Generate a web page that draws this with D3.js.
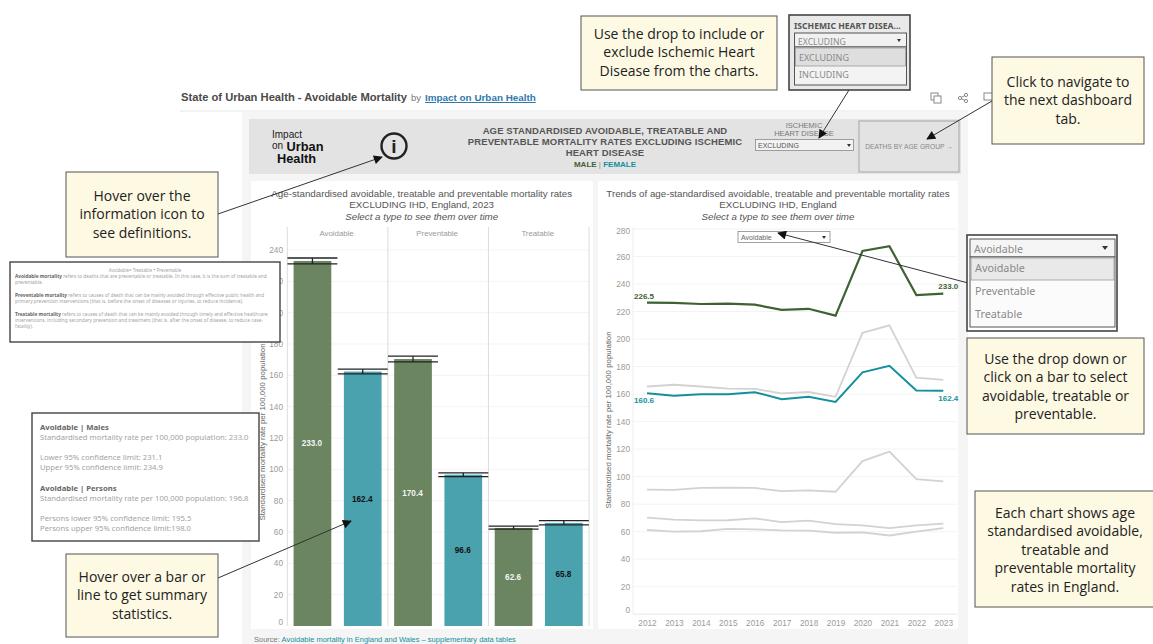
<!DOCTYPE html>
<html>
<head>
<meta charset="utf-8">
<script src="https://cdn.jsdelivr.net/npm/d3@7"></script>
<style>
   html, body { margin: 0; padding: 0; background: #fff; overflow: hidden; }
   svg { display: block; }
   text { font-family: "Liberation Sans", Arial, sans-serif; }
   .note { font-family: "Open Sans", sans-serif; font-size: 14px; fill: #222; text-anchor: middle; }
   .tip { font-family: "Noto Sans", sans-serif; font-size: 7.7px; fill: #a3a3a3; }
   .drop { font-family: "Noto Sans", sans-serif; fill: #8a8a8a; }
</style>
</head>
<body>
<svg id="chart" width="1153" height="644"></svg>
<script>
// Data
var types = ["Avoidable", "Preventable", "Treatable"];
var sexes = ["Male", "Female"];
var rates2023 = [233.0, 162.4, 170.4, 96.6, 62.6, 65.8];
var lowerLimits = [231.1, 160.9, 168.6, 95.3, 61.8, 64.6];
var upperLimits = [234.9, 163.9, 172.2, 97.8, 63.8, 67.2];
var barTicks = [0, 20, 40, 60, 80, 100, 120, 140, 160, 180, 200, 220, 240];
var lineTicks = [0, 20, 40, 60, 80, 100, 120, 140, 160, 180, 200, 220, 240, 260, 280];

var years = [2012, 2013, 2014, 2015, 2016, 2017, 2018, 2019, 2020, 2021, 2022, 2023];
var avoidableMale = [226.5, 226.3, 225.5, 225.7, 225.0, 221.2, 222.0, 217.0, 264.0, 267.5, 232.0, 233.0];
var avoidableFemale = [160.6, 158.8, 159.8, 159.9, 161.4, 156.3, 158.0, 154.3, 175.8, 180.5, 162.6, 162.4];
var preventableMale = [165.5, 166.8, 165.5, 164.0, 163.8, 160.5, 161.5, 158.0, 204.5, 210.0, 172.0, 170.4];
var preventableFemale = [90.5, 90.3, 91.8, 91.9, 91.8, 89.4, 90.0, 89.0, 111.3, 118.2, 98.2, 96.6];
var treatableFemale = [70.2, 68.7, 68.2, 68.3, 69.7, 67.0, 68.0, 65.5, 64.6, 62.5, 64.5, 65.8];
var treatableMale = [61.2, 60.0, 60.3, 62.0, 61.7, 61.0, 60.8, 59.2, 59.5, 57.2, 60.0, 62.6];

var headerLines = ["AGE STANDARDISED AVOIDABLE, TREATABLE AND", "PREVENTABLE MORTALITY RATES EXCLUDING ISCHEMIC", "HEART DISEASE"];
var defLines = [
   [["Avoidable mortality", 1], [" refers to deaths that are preventable or treatable. In this case, it is the sum of treatable and", 0]],
   [["preventable.", 0]],
   [["Preventable mortality", 1], [" refers to causes of death that can be mainly avoided through effective public health and", 0]],
   [["primary prevention interventions (that is, before the onset of diseases or injuries, to reduce incidence).", 0]],
   [["Treatable mortality", 1], [" refers to causes of death that can be mainly avoided through timely and effective healthcare", 0]],
   [["interventions, including secondary prevention and treatment (that is, after the onset of disease, to reduce case-", 0]],
   [["fatality).", 0]]
];
var tipLines = [
   ["Avoidable | Males", 1],
   ["Standardised mortality rate per 100,000 population: 233.0", 0],
   ["Lower 95% confidence limit: 231.1", 0],
   ["Upper 95% confidence limit: 234.9", 0],
   ["Avoidable | Persons", 1],
   ["Standardised mortality rate per 100,000 population:  196.8", 0],
   ["Persons lower 95% confidence limit: 195.5", 0],
   ["Persons upper 95% confidence limit:198.0", 0]
];

var green = "#6b8560", teal = "#4aa2ae", darkGreen = "#3f6233", darkTeal = "#13909e", pale = "#d2d2d2";
var svg = d3.select("#chart");

function rect(x, y, w, h, fill, stroke, sw) {
   return svg.append("rect").attr("x", x).attr("y", y).attr("width", w).attr("height", h)
      .attr("fill", fill).attr("stroke", stroke || "none").attr("stroke-width", sw || 0);
}

function label(x, y, str, size, color, anchor, weight) {
   return svg.append("text").attr("x", x).attr("y", y).text(str)
      .attr("font-size", size).attr("fill", color)
      .attr("text-anchor", anchor || "start").attr("font-weight", weight || "normal");
}

function styleAxis(g, size) {
   g.select(".domain").remove();
   g.selectAll("text").attr("fill", "#a09a96").attr("font-size", size)
      .attr("font-family", "Liberation Sans");
}

// Page furniture
function drawFrame() {
   label(181, 101, "State of Urban Health - Avoidable Mortality", 11.2, "#4a4a4a", "start", "bold");
   label(411, 101, "by", 9.5, "#777");
   label(425, 101, "Impact on Urban Health", 9.9, "#2f78ac", "start", "bold").attr("text-decoration", "underline");
   svg.append("line").attr("x1", 180).attr("x2", 968).attr("y1", 111).attr("y2", 111).attr("stroke", "#e6e6e6");

   // small toolbar icons
   rect(931, 93, 7, 7, "none", "#888", 1);
   rect(934, 96, 7, 7, "#fff", "#888", 1);
   svg.append("path").attr("d", "M960 98l6-3M960 98l6 3").attr("stroke", "#888").attr("fill", "none");
   [[960, 98], [966, 95], [966, 101]].forEach(function(p) {
      svg.append("circle").attr("cx", p[0]).attr("cy", p[1]).attr("r", 1.6).attr("fill", "#fff").attr("stroke", "#888");
   });
   rect(984, 93, 9, 7, "none", "#888", 1);

   rect(242, 112, 726, 532, "#f5f5f5");
   rect(249, 119, 712, 55, "#e3e3e3");
   rect(251, 181, 342, 448, "#fff");
   rect(598, 181, 360, 448, "#fff");

   label(272, 138, "Impact", 10, "#222");
   label(272, 148.5, "on", 10, "#222");
   label(286.5, 151, "Urban", 12.8, "#111", "start", "bold");
   label(277, 162.5, "Health", 12.8, "#111", "start", "bold");

   svg.append("circle").attr("cx", 394).attr("cy", 146).attr("r", 12.5).attr("fill", "none").attr("stroke", "#222").attr("stroke-width", 2.4);
   label(394, 153, "i", 19, "#222", "middle", "bold");

   headerLines.forEach(function(d, i) {
      label(605, 133.5 + i * 11.4, d, 9.5, "#555", "middle", "bold").attr("letter-spacing", 0.12);
   });
   var key = label(605, 166.5, "", 8, "#888", "middle", "bold");
   key.append("tspan").attr("fill", darkGreen).text("MALE");
   key.append("tspan").attr("fill", "#888").attr("font-weight", "normal").text(" | ");
   key.append("tspan").attr("fill", darkTeal).text("FEMALE");

   label(804, 128, "ISCHEMIC", 7.5, "#777", "middle");
   label(804, 136, "HEART DISEASE", 7.5, "#777", "middle");
   rect(755.5, 139.5, 98, 11, "#f2f2f2", "#8a8a8a", 0.8);
   label(758, 147.5, "EXCLUDING", 7, "#555");
   svg.append("path").attr("d", "M847 144h4l-2 3z").attr("fill", "#333");

   rect(859, 121, 100, 51, "#e3e3e3", "#a5a5a5", 1);
   label(909, 149, "DEATHS BY AGE GROUP →", 6.7, "#888", "middle");

   label(421.7, 197, "Age-standardised avoidable, treatable and preventable mortality rates", 9.75, "#555", "middle");
   label(421.7, 208, "EXCLUDING IHD, England, 2023", 9.75, "#555", "middle");
   label(421.7, 219.5, "Select a type to see them over time", 9.75, "#555", "middle").attr("font-style", "italic");
   label(778, 197, "Trends of age-standardised avoidable, treatable and preventable mortality rates", 9.75, "#555", "middle");
   label(778, 208, "EXCLUDING IHD, England", 9.75, "#555", "middle");
   label(778, 219.5, "Select a type to see them over time", 9.75, "#555", "middle").attr("font-style", "italic");

   var src = label(254, 642, "Source: ", 7.5, "#777");
   src.append("tspan").attr("fill", darkTeal).text("Avoidable mortality in England and Wales – supplementary data tables");
}

function drawBars() {
   var y = d3.scaleLinear().domain([0, 240]).range([626, 250]);
   var facet = d3.scaleBand().domain(types).range([287.3, 589]);
   var inner = d3.scaleBand().domain(sexes).range([0, facet.bandwidth()]).paddingInner(0.25).paddingOuter(0.125);

   var axis = svg.append("g").attr("transform", "translate(287,0)")
      .call(d3.axisLeft(y).tickValues(barTicks).tickSize(0).tickPadding(4));
   styleAxis(axis, 8.3);
   axis.selectAll(".tick").filter(function(d) { return d === 0; }).select("text").attr("dy", "-0.2em");

   svg.append("g").selectAll("line").data(barTicks.filter(function(d) { return d > 0; })).enter().append("line")
      .attr("x1", 287).attr("x2", 589).attr("y1", y).attr("y2", y).attr("stroke", "#f3f3f3");

   svg.append("g").selectAll("line").data(types.concat(["end"])).enter().append("line")
      .attr("x1", function(d) { return d === "end" ? 589 : facet(d); })
      .attr("x2", function(d) { return d === "end" ? 589 : facet(d); })
      .attr("y1", 227).attr("y2", 626).attr("stroke", "#dcdcdc").attr("stroke-width", 1);

   types.forEach(function(t) {
      label(facet(t) + facet.bandwidth() / 2 - 1, 236, t, 7.8, "#999", "middle");
   });

   var rows = [];
   types.forEach(function(t, i) {
      sexes.forEach(function(s, j) {
         var k = i * 2 + j;
         rows.push({type: t, sex: s, value: rates2023[k], lo: lowerLimits[k], hi: upperLimits[k]});
      });
   });
   function cx(d) { return facet(d.type) + inner(d.sex) + inner.bandwidth() / 2; }

   svg.append("g").selectAll("rect").data(rows).enter().append("rect")
      .attr("x", function(d) { return facet(d.type) + inner(d.sex); })
      .attr("y", function(d) { return y(d.value); })
      .attr("width", inner.bandwidth())
      .attr("height", function(d) { return y(0) - y(d.value); })
      .attr("fill", function(d) { return d.sex === "Male" ? green : teal; });

   var err = svg.append("g").attr("stroke", "#222").attr("stroke-width", 1.3);
   rows.forEach(function(d) {
      err.append("line").attr("x1", cx(d) - 25).attr("x2", cx(d) + 25).attr("y1", y(d.hi)).attr("y2", y(d.hi));
      err.append("line").attr("x1", cx(d) - 25).attr("x2", cx(d) + 25).attr("y1", y(d.lo)).attr("y2", y(d.lo));
      err.append("line").attr("x1", cx(d)).attr("x2", cx(d)).attr("y1", y(d.hi)).attr("y2", y(d.lo));
   });

   svg.append("g").selectAll("text").data(rows).enter().append("text")
      .attr("x", function(d) { return cx(d) - 0.5; })
      .attr("y", function(d) { return y(d.value / 2) + 3; })
      .attr("text-anchor", "middle").attr("font-size", 8.2).attr("font-weight", "bold")
      .attr("fill", function(d) { return d.sex === "Male" ? "#f4f4f4" : "#111"; })
      .text(function(d) { return d.value.toFixed(1); });

   label(0, 0, "Standardised mortality rate per 100,000 population", 7.9, "#666", "middle")
      .attr("transform", "translate(265,432) rotate(-90)");
}

function drawLines() {
   var y = d3.scaleLinear().domain([0, 280]).range([614.2, 229]);
   var x = d3.scalePoint().domain(years).range([647, 943.3]);
   var path = d3.line().x(function(d, i) { return x(years[i]); }).y(function(d) { return y(d); });

   svg.append("g").selectAll("line").data(lineTicks).enter().append("line")
      .attr("x1", 633).attr("x2", 957).attr("y1", y).attr("y2", y)
      .attr("stroke", function(d) { return d === 0 ? "#e6e6e6" : "#f3f3f3"; });
   svg.append("line").attr("x1", 633).attr("x2", 633).attr("y1", 227).attr("y2", 614).attr("stroke", "#eee");

   var left = svg.append("g").attr("transform", "translate(631,0)")
      .call(d3.axisLeft(y).tickValues(lineTicks).tickSize(0).tickPadding(1));
   styleAxis(left, 8.3);
   left.selectAll(".tick").filter(function(d) { return d === 0; }).select("text").attr("dy", "-0.2em");
   left.selectAll(".tick").filter(function(d) { return d === 280; }).select("text").attr("dy", "0.6em");

   var bottom = svg.append("g").attr("transform", "translate(0,614)")
      .call(d3.axisBottom(x).tickFormat(d3.format("d")).tickSize(0).tickPadding(6));
   styleAxis(bottom, 8.3);

   var paleSeries = [preventableMale, preventableFemale, treatableFemale, treatableMale];
   svg.append("g").selectAll("path").data(paleSeries).enter().append("path")
      .attr("d", path).attr("fill", "none").attr("stroke", pale).attr("stroke-width", 1.8);
   svg.append("path").attr("d", path(avoidableMale)).attr("fill", "none").attr("stroke", darkGreen).attr("stroke-width", 2.2);
   svg.append("path").attr("d", path(avoidableFemale)).attr("fill", "none").attr("stroke", darkTeal).attr("stroke-width", 2);

   label(x(2012) - 13, y(avoidableMale[0]) - 4, avoidableMale[0].toFixed(1), 8, darkGreen, "start", "bold");
   label(x(2023) - 5, y(avoidableMale[11]) - 5, avoidableMale[11].toFixed(1), 8, darkGreen, "start", "bold");
   label(x(2012) - 13, y(avoidableFemale[0]) + 10, avoidableFemale[0].toFixed(1), 8, darkTeal, "start", "bold");
   label(x(2023) - 5, y(avoidableFemale[11]) + 10, avoidableFemale[11].toFixed(1), 8, darkTeal, "start", "bold");

   label(0, 0, "Standardised mortality rate per 100,000 population", 7.9, "#666", "middle")
      .attr("transform", "translate(611,420) rotate(-90)");

   rect(738, 231.5, 92, 11, "#fff", "#8a8a8a", 0.8);
   label(741, 239.5, "Avoidable", 7, "#666");
   svg.append("path").attr("d", "M822 236h4l-2 3z").attr("fill", "#333");
}

function callout(x, y, w, h, lines, firstBase, step) {
   rect(x, y, w, h, "#fdf9e3", "#555", 1);
   lines.forEach(function(d, i) {
      svg.append("text").attr("class", "note").attr("x", x + w / 2).attr("y", firstBase + i * step).text(d);
   });
}

function arrow(x1, y1, x2, y2) {
   svg.append("line").attr("x1", x1).attr("y1", y1).attr("x2", x2).attr("y2", y2)
      .attr("stroke", "#333").attr("stroke-width", 1).attr("marker-end", "url(#tip)");
}

function dropText(x, y, str, size, color, weight) {
   return svg.append("text").attr("class", "drop").attr("x", x).attr("y", y).text(str)
      .attr("font-size", size).attr("font-weight", weight || "normal").style("fill", color || "#8a8a8a");
}

function drawNotes() {
   svg.append("defs").append("marker").attr("id", "tip").attr("viewBox", "0 0 10 10")
      .attr("refX", 9).attr("refY", 5).attr("markerWidth", 11).attr("markerHeight", 9)
      .attr("markerUnits", "userSpaceOnUse").attr("orient", "auto")
      .append("path").attr("d", "M0 0L10 5L0 10z").attr("fill", "#111");

   // definitions box
   rect(10, 262, 270, 80, "#fff", "#444", 1.4);
   svg.append("text").attr("class", "tip").attr("x", 145).attr("y", 272).attr("text-anchor", "middle")
      .style("font-size", "4.4px").text("Avoidable= Treatable + Preventable");
   var defY = [277.5, 283.7, 296.7, 302.7, 316, 322, 328];
   defLines.forEach(function(parts, i) {
      var t = svg.append("text").attr("class", "tip").attr("x", 15).attr("y", defY[i]).style("font-size", "4.75px");
      parts.forEach(function(p) {
         t.append("tspan").text(p[0]).attr("font-weight", p[1] ? "bold" : "normal").style("fill", p[1] ? "#666" : "#a3a3a3");
      });
   });

   // tooltip box
   rect(32, 413, 227, 128, "#fff", "#444", 1.4);
   var tipY = [430, 440, 460, 470, 490.5, 500.5, 521, 531];
   tipLines.forEach(function(d, i) {
      svg.append("text").attr("class", "tip").attr("x", 40).attr("y", tipY[i]).text(d[0])
         .attr("font-weight", d[1] ? "bold" : "normal").style("fill", d[1] ? "#666" : "#a3a3a3");
   });

   // the two dropdown pictures
   rect(789, 15, 121, 75, "#e9e9e9", "#444", 1.6);
   dropText(794, 29, "ISCHEMIC HEART DISEA...", 8.6, "#555", "bold");
   rect(794.5, 33, 112, 14, "#f1f1f1", "#555", 1);
   dropText(798, 44.5, "EXCLUDING", 8.6);
   svg.append("path").attr("d", "M897 39h4l-2 3z").attr("fill", "#333");
   rect(794.5, 47, 112, 38, "#f3f3f3", "#555", 1);
   rect(795.5, 48, 110, 18, "#dedede", "#999", 0.8);
   dropText(799, 60.5, "EXCLUDING", 9);
   dropText(799, 78, "INCLUDING", 9);

   rect(967, 235, 150, 96, "#fff", "#444", 1.6);
   rect(970, 239, 145, 18, "#f5f5f5", "#555", 1);
   dropText(974, 252.5, "Avoidable", 10.6);
   svg.append("path").attr("d", "M1102 246h6l-3 4z").attr("fill", "#333");
   rect(970, 257, 145, 70, "#fbfbfb", "#555", 1);
   rect(971, 258, 143, 22, "#e9e9e9", "#999", 0.8);
   dropText(975, 272, "Avoidable", 10.8);
   dropText(975, 295, "Preventable", 10.8);
   dropText(975, 318, "Treatable", 10.8);

   // yellow callouts
   callout(581, 16, 196, 74, ["Use the drop to include or", "exclude Ischemic Heart", "Disease from the charts."], 39, 18.4);
   callout(992, 57, 152, 87, ["Click to navigate to", "the next dashboard", "tab."], 87, 18.4);
   callout(66, 172, 152, 85, ["Hover over the", "information icon to", "see definitions."], 201, 18.4);
   callout(66, 554, 152, 83, ["Hover over a bar or", "line to get summary", "statistics."], 582, 18.4);
   callout(967, 338, 177, 96, ["Use the drop down or", "click on a bar to select", "avoidable, treatable or", "preventable."], 364, 18.4);
   callout(975, 491, 180, 116, ["Each chart shows age", "standardised avoidable,", "treatable and", "preventable mortality", "rates in England."], 518, 18.4);

   arrow(218, 214, 382, 157);
   arrow(218, 578, 351, 521);
   arrow(849, 90, 819, 138);
   arrow(992, 101, 927, 139);
   arrow(967, 282.7, 778, 233);
}

drawFrame();
drawBars();
drawLines();
drawNotes();
</script>
</body>
</html>
